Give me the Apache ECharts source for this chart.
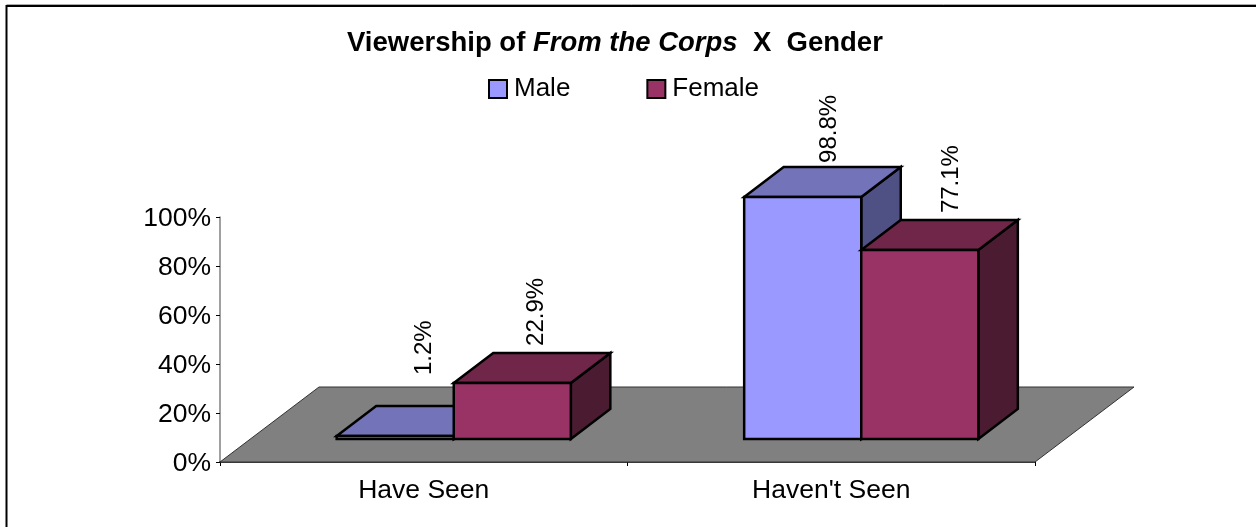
<!DOCTYPE html>
<html><head><meta charset="utf-8">
<style>html,body{margin:0;padding:0;background:#fff}#c{width:1256px;height:527px}</style>
<script src="https://cdn.jsdelivr.net/npm/echarts@6/dist/echarts.min.js"></script>
</head><body><div id="c"></div>
<script>
const categories = ["Have Seen", "Haven't Seen"];
const male = [1.2, 98.8];
const female = [22.9, 77.1];
const seriesNames = ["Male", "Female"];
const valueTicks = [0, 20, 40, 60, 80, 100];

const FONT = '"Liberation Sans", Arial, sans-serif';
const BAR_BAND = 0.2873;          // bar width as share of a category band
const DEPTH = [39.5, -30];        // bar depth vector
const FLOOR_DEPTH = [99, -75];    // floor depth vector
const BASE_SHIFT = [30, -23];     // bars stand this far back on the floor
const LW = 2.5;
// label nudges from the bar's back top edge: [dx, dy]
const NUDGE = {Male: [[29, -31], [27, -4]], Female: [[24, -7], [32, -7]]};
const PAL = {
  Male: {front: '#9999FF', top: '#7373BA', side: '#4F5185'},
  Female: {front: '#993366', top: '#6F2648', side: '#4B1B32'}
};

function poly(pts, fill, lw, stroke) {
  return {type: 'polygon', shape: {points: pts},
    style: {fill, stroke: stroke || '#000', lineWidth: lw === undefined ? LW : lw, lineJoin: 'miter'}};
}
function barItem(name, off) {
  return function (params, api) {
    const i = api.value(0), v = api.value(1);
    const band = api.size([1, 0])[0], w = band * BAR_BAND;
    const c0 = api.coord([i, 0]), c1 = api.coord([i, v]);
    const xl = c0[0] + BASE_SHIFT[0] + off * w, xr = xl + w;
    const yb = c0[1] + BASE_SHIFT[1], yt = c1[1] + BASE_SHIFT[1];
    const dx = DEPTH[0], dy = DEPTH[1], p = PAL[name];
    const n = NUDGE[name][i];
    return {type: 'group', children: [
      poly([[xr, yb], [xr + dx, yb + dy], [xr + dx, yt + dy], [xr, yt]], p.side),
      poly([[xl, yt], [xr, yt], [xr + dx, yt + dy], [xl + dx, yt + dy]], p.top),
      poly([[xl, yb], [xr, yb], [xr, yt], [xl, yt]], p.front),
      {type: 'text', x: (xl + xr) / 2 + n[0], y: yt + dy + n[1], rotation: Math.PI / 2,
        style: {text: v.toFixed(1) + '%', fill: '#000', font: '24px ' + FONT,
          textAlign: 'left', textVerticalAlign: 'middle'}, z2: 50}
    ]};
  };
}
function floorItem(params, api) {
  const band = api.size([1, 0])[0];
  const a = api.coord([0, 0]), b = api.coord([1, 0]);
  const xa = a[0] - band / 2, xb = b[0] + band / 2, y = a[1];
  const d = FLOOR_DEPTH;
  return poly([[xa, y], [xb, y], [xb + d[0], y + d[1]], [xa + d[0], y + d[1]]], '#808080', 1, '#333');
}

const chart = echarts.init(document.getElementById('c'), null, {renderer: 'canvas'});
chart.setOption({
  animation: false,
  backgroundColor: '#fff',
  title: {
    left: 347, top: 29, padding: 0,
    text: '{b|Viewership of }{i|From the Corps}{b|  X  Gender}',
    textStyle: {rich: {
      b: {fontFamily: FONT, fontSize: 27.5, fontWeight: 'bold', color: '#000'},
      i: {fontFamily: FONT, fontSize: 27.5, fontWeight: 'bold', fontStyle: 'italic', color: '#000'}
    }}
  },
  legend: {
    left: 488, top: 76, padding: 0, icon: 'rect', itemWidth: 18, itemHeight: 18, itemGap: 76,
    data: seriesNames,
    textStyle: {fontFamily: FONT, fontSize: 26, color: '#000', padding: [0, 0, 0, 2]},
    itemStyle: {borderColor: '#000', borderWidth: 2}
  },
  grid: {left: 220, top: 217, width: 815, height: 245, containLabel: false},
  xAxis: {
    type: 'category', data: categories,
    axisLine: {show: true, lineStyle: {color: '#000', width: 1.5}},
    axisTick: {show: true, alignWithLabel: false, length: 4, lineStyle: {color: '#000', width: 1}},
    axisLabel: {fontFamily: FONT, fontSize: 26.5, color: '#000', margin: 15},
    splitLine: {show: false}
  },
  yAxis: {
    type: 'value', min: valueTicks[0], max: valueTicks[valueTicks.length - 1], interval: 20,
    axisLine: {show: true, lineStyle: {color: '#808080', width: 1.5}},
    axisTick: {show: true, length: 4, lineStyle: {color: '#000', width: 1}},
    axisLabel: {margin: 9, formatter: '{v|{value}%}',
      rich: {v: {fontFamily: FONT, fontSize: 26.5, color: '#000', padding: [4, 0, 0, 0]}}},
    splitLine: {show: false}
  },
  series: [
    {type: 'custom', silent: true, coordinateSystem: 'cartesian2d', renderItem: floorItem,
      clip: false, data: [[0, 0]], z: 1, encode: {x: 0, y: 1}},
    {type: 'custom', name: 'Male', coordinateSystem: 'cartesian2d', renderItem: barItem('Male', -1),
      clip: false, data: male.map((v, i) => [i, v]), z: 2, itemStyle: {color: PAL.Male.front}, encode: {x: 0, y: 1}},
    {type: 'custom', name: 'Female', coordinateSystem: 'cartesian2d', renderItem: barItem('Female', 0),
      clip: false, data: female.map((v, i) => [i, v]), z: 3, itemStyle: {color: PAL.Female.front}, encode: {x: 0, y: 1}}
  ],
  graphic: [
    {type: 'line', silent: true, shape: {x1: 6.5, y1: 6, x2: 1256, y2: 6}, style: {stroke: '#000', lineWidth: 2}},
    {type: 'line', silent: true, shape: {x1: 6.5, y1: 4.5, x2: 1256, y2: 4.5}, style: {stroke: '#aaa', lineWidth: 1}},
    {type: 'line', silent: true, shape: {x1: 6.5, y1: 5, x2: 6.5, y2: 527}, style: {stroke: '#000', lineWidth: 2}}
  ]
});
</script></body></html>
